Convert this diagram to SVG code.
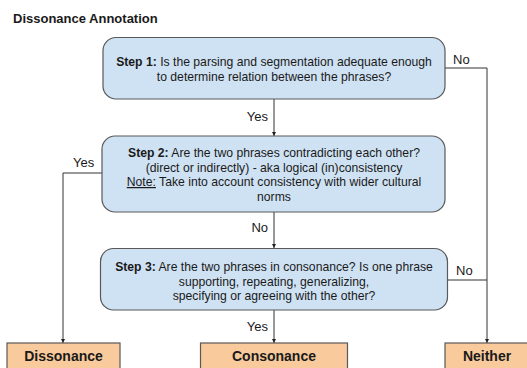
<svg xmlns="http://www.w3.org/2000/svg" width="527" height="368" viewBox="0 0 527 368">
<defs>
<marker id="arr" viewBox="0 0 6 6" refX="6" refY="3" markerWidth="4" markerHeight="4" markerUnits="userSpaceOnUse" orient="auto">
<path d="M0,0 L6,3 L0,6 z" fill="#222"/>
</marker>
</defs>
<style>
text{font-family:"Liberation Sans",Arial,sans-serif;fill:#1a1a1a}
.q{fill:#cfe2f3;stroke:#595959;stroke-width:1.2}
.o{fill:#f9cb9c;stroke:#595959;stroke-width:1.2}
.t{font-size:12.2px;text-anchor:middle}
.b{font-weight:bold}
.out{font-size:14px;font-weight:bold;text-anchor:middle}
.lbl{font-size:13px}
.c{fill:none;stroke:#333;stroke-width:1}
</style>
<rect width="527" height="368" fill="#fff"/>
<text x="13" y="22.5" class="b" font-size="13">Dissonance Annotation</text>
<g id="connectors">
<path class="c" d="M274,99 V136" marker-end="url(#arr)"/>
<path class="c" d="M445,68 H487 V343" marker-end="url(#arr)"/>
<path class="c" d="M102,173 H63 V343" marker-end="url(#arr)"/>
<path class="c" d="M274,212 V248" marker-end="url(#arr)"/>
<path class="c" d="M447,280 H487"/>
<path class="c" d="M274,310 V343" marker-end="url(#arr)"/>
<text class="lbl" x="268" y="120.5" text-anchor="end">Yes</text>
<text class="lbl" x="453" y="64">No</text>
<text class="lbl" x="73" y="167">Yes</text>
<text class="lbl" x="268" y="232" text-anchor="end">No</text>
<text class="lbl" x="456" y="275">No</text>
<text class="lbl" x="268" y="331" text-anchor="end">Yes</text>
</g>
<g id="step1">
<rect class="q" x="103" y="37.5" width="342" height="61.5" rx="13"/>
<text class="t" x="274" y="66"><tspan class="b">Step 1:</tspan> Is the parsing and segmentation adequate enough</text>
<text class="t" x="274" y="80.5">to determine relation between the phrases?</text>
</g>
<g id="step2">
<rect class="q" x="102" y="136" width="343" height="76" rx="13"/>
<text class="t" x="274" y="157"><tspan class="b">Step 2:</tspan> Are the two phrases contradicting each other?</text>
<text class="t" x="274" y="171.5">(direct or indirectly) - aka logical (in)consistency</text>
<text class="t" x="274" y="186"><tspan text-decoration="underline">Note:</tspan> Take into account consistency with wider cultural</text>
<text class="t" x="274" y="200.5">norms</text>
</g>
<g id="step3">
<rect class="q" x="100.5" y="248.5" width="347" height="61.5" rx="13"/>
<text class="t" x="274" y="271"><tspan class="b">Step 3:</tspan> Are the two phrases in consonance? Is one phrase</text>
<text class="t" x="274" y="285.5">supporting, repeating, generalizing,</text>
<text class="t" x="274" y="300">specifying or agreeing with the other?</text>
</g>
<g id="dissonance">
<rect class="o" x="7" y="343" width="113" height="35"/>
<text class="out" x="63.5" y="361">Dissonance</text>
</g>
<g id="consonance">
<rect class="o" x="200.5" y="343" width="147" height="35"/>
<text class="out" x="274" y="361">Consonance</text>
</g>
<g id="neither">
<rect class="o" x="445" y="343" width="84" height="35"/>
<text class="out" x="487" y="361">Neither</text>
</g>
</svg>
